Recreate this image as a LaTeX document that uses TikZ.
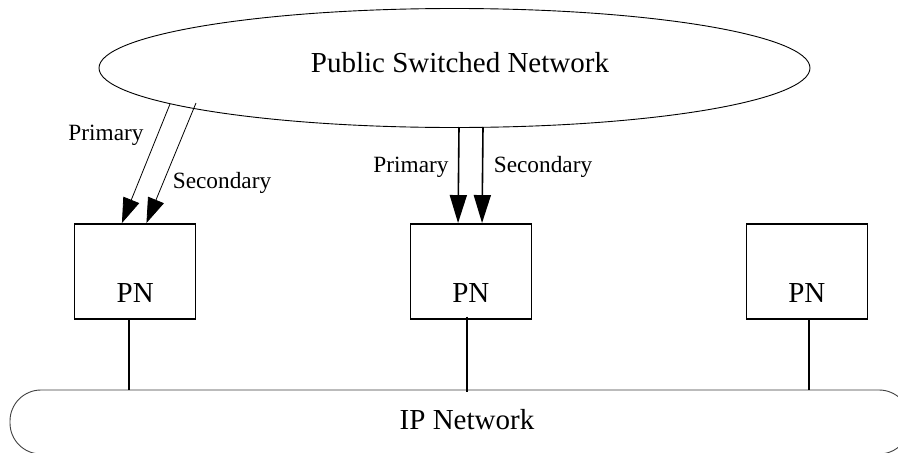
\documentclass[tikz,border=0pt]{standalone}
\usepackage{fontspec}
\setmainfont{Liberation Serif}
\usetikzlibrary{shapes.geometric,arrows.meta}
\begin{document}
\begin{tikzpicture}[x=1pt,y=-1pt,
  bigfont/.style={font=\fontsize{29}{33}\selectfont},
  smallfont/.style={font=\fontsize{23.3}{26}\selectfont},
  pnbox/.style={draw,line width=1.5pt,minimum width=121pt,minimum height=95pt,inner sep=0pt,
    text height=63pt,text depth=0pt,bigfont},
  link/.style={line width=1.5pt},
  thinarrow/.style={line width=0.8pt,-{Triangle[length=25pt,width=17pt]}},
  thickarrow/.style={line width=1.6pt,-{Triangle[length=28pt,width=17pt]}},
  lbl/.style={smallfont,inner sep=0pt}]
\useasboundingbox (0,0) rectangle (898,453);
\clip (0,0) rectangle (898,453);
\fill[white] (0,0) rectangle (898,453);

% Public switched network
\node[ellipse,draw,line width=0.9pt,minimum width=711pt,minimum height=119pt,inner sep=0pt,
  label={[bigfont,xshift=5.5pt,yshift=5pt]center:Public Switched Network}] (psn) at (454.5,68) {};

% IP network
\node[draw,line width=0.9pt,draw=black!75,rounded corners=31pt,minimum width=900pt,minimum height=64pt,inner sep=0pt,
  label={[bigfont,xshift=7pt,yshift=2pt]center:IP Network}] (ip) at (460,422) {};

% PN boxes
\node[pnbox] (pn1) at (135.2,271.3) {PN};
\node[pnbox] (pn2) at (470.8,271.3) {PN};
\node[pnbox] (pn3) at (806.8,271.3) {PN};

% links to IP network
\draw[link] ([xshift=-6pt]pn1.south) -- ([xshift=-6pt]pn1.south |- ip.north);
\draw[link] ([xshift=-4pt,yshift=3pt]pn2.south) -- ([xshift=-4pt,yshift=-2pt]pn2.south |- ip.north);
\draw[link] ([xshift=2pt]pn3.south) -- ([xshift=2pt]pn3.south |- ip.north);

% arrow endpoints
\coordinate (s1) at (170,104);
\coordinate (s2) at (196,103);
\coordinate (e1) at ([xshift=48pt]pn1.north west);
\coordinate (e2) at ([xshift=72.5pt]pn1.north west);
\coordinate (s3) at (459,127);
\coordinate (s4) at (483,127);
\coordinate (e3) at ([xshift=48.5pt]pn2.north west);
\coordinate (e4) at ([xshift=72.5pt]pn2.north west);

\draw[thinarrow] (s1) -- (e1);
\draw[thinarrow] (s2) -- (e2);
\draw[thickarrow] (s3) -- (e3);
\draw[thickarrow] (s4) -- (e4);

% labels
\node[lbl] (l1) at (106,135) {Primary};
\node[lbl] (l2) at (222,183) {Secondary};
\node[lbl] (l3) at (411,167) {Primary};
\node[lbl] (l4) at (543,167) {Secondary};
\end{tikzpicture}
\end{document}
